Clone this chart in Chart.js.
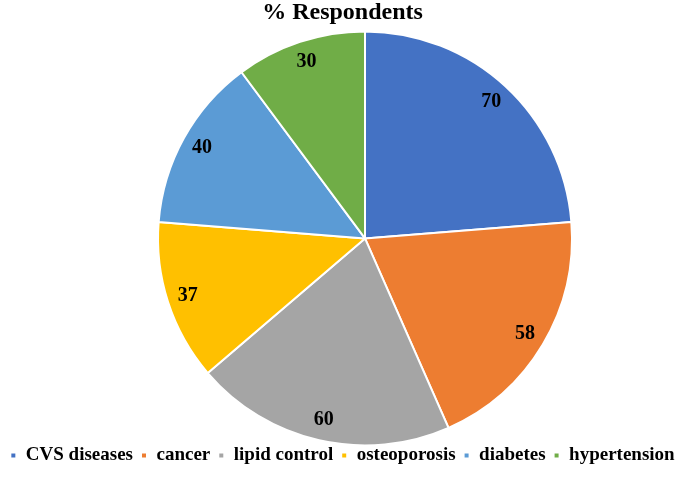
<!DOCTYPE html>
<html>
<head>
<meta charset="utf-8">
<script src="https://cdn.jsdelivr.net/npm/chart.js@4/dist/chart.umd.min.js"></script>
<style>
  html, body { margin: 0; padding: 0; background: #fff; }
  #wrap { width: 685px; height: 495px; }
</style>
</head>
<body>
<div id="wrap"><canvas id="grafico"></canvas></div>
<script>
// dados
const categorias = ['CVS diseases', 'cancer', 'lipid control', 'osteoporosis', 'diabetes', 'hypertension'];
const respondentes = [70, 58, 60, 37, 40, 30];
const cores = ['#4472C4', '#ED7D31', '#A5A5A5', '#FFC000', '#5B9BD5', '#70AD47'];
const titulo = '% Respondents';

const fonteSerif = "'Liberation Serif', 'Times New Roman', serif";

// desloca a área do gráfico para a direita (a pizza não fica centrada no canvas)
const deslocarArea = {
  id: 'deslocarArea',
  afterLayout(chart) {
    const a = chart.chartArea;
    a.left += 45;
    a.width = a.right - a.left;
  }
};

// escreve o valor dentro de cada fatia
const rotulos = {
  id: 'rotulos',
  afterDatasetsDraw(chart) {
    const ctx = chart.ctx;
    const meta = chart.getDatasetMeta(0);
    ctx.save();
    ctx.font = 'bold 20px ' + fonteSerif;
    ctx.fillStyle = '#000';
    ctx.textAlign = 'center';
    ctx.textBaseline = 'middle';
    meta.data.forEach((arc, i) => {
      const p = arc.getProps(['x', 'y', 'startAngle', 'endAngle', 'outerRadius'], true);
      const meio = (p.startAngle + p.endAngle) / 2;
      const r = p.outerRadius * 0.9;
      ctx.fillText(String(respondentes[i]), p.x + Math.cos(meio) * r, p.y + Math.sin(meio) * r);
    });
    ctx.restore();
  }
};

new Chart(document.getElementById('grafico'), {
  type: 'pie',
  data: {
    labels: categorias,
    datasets: [{
      data: respondentes,
      backgroundColor: cores,
      borderColor: '#fff',
      borderWidth: 2,
      radius: 207
    }]
  },
  options: {
    responsive: true,
    maintainAspectRatio: false,
    animation: false,
    layout: { padding: { top: 0, bottom: 20 } },
    plugins: {
      title: {
        display: true,
        text: titulo,
        color: '#000',
        font: { family: fonteSerif, size: 24, weight: 'bold' },
        padding: { top: -2, bottom: 12 }
      },
      legend: {
        position: 'bottom',
        labels: {
          color: '#000',
          boxWidth: 6,
          boxHeight: 6,
          padding: 8,
          font: { family: fonteSerif, size: 19, weight: 'bold' }
        }
      },
      tooltip: { enabled: false }
    }
  },
  plugins: [deslocarArea, rotulos]
});
</script>
</body>
</html>
